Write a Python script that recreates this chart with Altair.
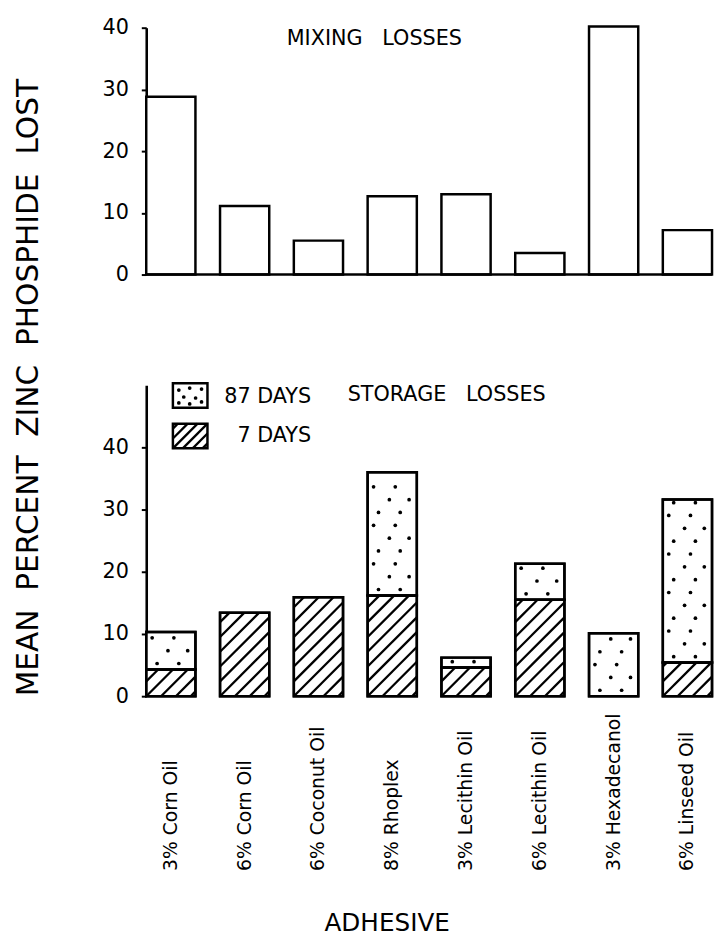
import math
import altair as alt
import pandas as pd

# ---------------- data ----------------
adhesives = ["3% Corn Oil", "6% Corn Oil", "6% Coconut Oil", "8% Rhoplex",
             "3% Lecithin Oil", "6% Lecithin Oil", "3% Hexadecanol", "6% Linseed Oil"]
mixing_loss = [28.8, 11.1, 5.5, 12.7, 13.0, 3.5, 40.2, 7.2]
storage_7_days = [4.3, 13.4, 15.9, 16.2, 4.6, 15.5, 0.0, 5.4]
storage_87_days = [10.3, 13.4, 15.9, 36.0, 6.2, 21.3, 10.1, 31.6]
y_ticks = [0, 10, 20, 30, 40]

# ---------------- layout / style ----------------
FONT = "DejaVu Sans"
W = 573            # plot width
H = 677            # whole plot height (both panels)
H_TOP = 250        # upper panel height
H_BOT = 315        # lower panel height
BOT_TOP = H - H_BOT
HALF = 1 / 3
XMIN, XMAX = -HALF, len(adhesives) - 1 + HALF
TOP_MAX = 40
BOT_MAX = 50
PX_X = W / (XMAX - XMIN)
PX_Y = H_BOT / BOT_MAX
HATCH_STEP = 15
LINE = 2.5
AXW = 2.6


def hatch(w, h, step):
    """'/' hatch segments clipped to a w x h box (u to the right, v upward)."""
    segs = []
    k = math.floor(-w / step)
    while k * step < h:
        c = k * step
        u0 = max(0.0, -c)
        u1 = min(w, h - c)
        if u1 - u0 > 0.5:
            segs.append((u0, u0 + c, u1, u1 + c))
        k += 1
    return segs


DOT_ROWS = [(11, 33), (22, 42), (6, 28)]


def dots(w, h, gap=13):
    pts, r, v = [], 0, 6
    while v <= h - 3:
        for u in DOT_ROWS[r % 3]:
            if u < w - 3:
                pts.append((u, v))
        r += 1
        v += gap
    return pts


idx = list(range(len(adhesives)))
bar_w = 2 * HALF * PX_X

top_df = pd.DataFrame({"x0": [i - HALF for i in idx], "x1": [i + HALF for i in idx],
                       "y0": [0.0] * len(idx), "y1": mixing_loss})
top_base_df = pd.DataFrame({"x0": [XMIN], "x1": [XMAX], "y": [0.0]})
label_df = pd.DataFrame({"i": idx, "name": adhesives})

seg_rows, hatch_rows, dot_rows = [], [], []
for i in idx:
    a, b = storage_7_days[i], storage_87_days[i]
    if a > 0:
        seg_rows.append({"x0": i - HALF, "x1": i + HALF, "y0": 0.0, "y1": a})
        for u0, v0, u1, v1 in hatch(bar_w, a * PX_Y, HATCH_STEP):
            hatch_rows.append({"hx": i - HALF + u0 / PX_X, "hy": v0 / PX_Y,
                               "hx2": i - HALF + u1 / PX_X, "hy2": v1 / PX_Y})
    if b - a > 0:
        seg_rows.append({"x0": i - HALF, "x1": i + HALF, "y0": a, "y1": b})
        for u, v in dots(bar_w, (b - a) * PX_Y):
            dot_rows.append({"dx": i - HALF + u / PX_X, "dy": a + v / PX_Y})


# legend drawn inside the lower panel (pixel layout converted to that panel's scales)
def px_x(p):
    return XMIN + p / PX_X


def px_y(p):
    return BOT_MAX - p / PX_Y


LB_X0, LB_X1 = 27, 62
LB1 = (-2, 23)
LB2 = (39, 64)
leg_box = pd.DataFrame({"x0": [px_x(LB_X0)] * 2, "x1": [px_x(LB_X1)] * 2,
                        "y0": [px_y(LB1[1]), px_y(LB2[1])], "y1": [px_y(LB1[0]), px_y(LB2[0])]})
leg_hatch = []
for u0, v0, u1, v1 in hatch(LB_X1 - LB_X0, LB2[1] - LB2[0], 10):
    leg_hatch.append({"hx": px_x(LB_X0 + u0), "hy": px_y(LB2[1] - v0),
                      "hx2": px_x(LB_X0 + u1), "hy2": px_y(LB2[1] - v1)})
leg_dots = [{"dx": px_x(LB_X0 + u), "dy": px_y(LB1[0] + v)}
            for u, v in [(6, 7), (17, 5), (29, 6), (11, 14), (23, 15), (6, 20), (29, 19), (17, 21)]]

seg_df = pd.DataFrame(seg_rows)
hatch_df = pd.DataFrame(hatch_rows + leg_hatch)
dot_df = pd.DataFrame(dot_rows + leg_dots)

xs = alt.Scale(domain=[XMIN, XMAX], nice=False, zero=False)
ys_top = alt.Scale(domain=[0, TOP_MAX], range=[H_TOP, 0], nice=False)
ys_bot = alt.Scale(domain=[0, BOT_MAX], range=[H, BOT_TOP], nice=False)

y_axis_common = dict(values=y_ticks, orient="left", tickSize=5, tickWidth=2, labelPadding=13,
                     labelFontSize=21, grid=False, domainWidth=AXW)

# ---------------- upper panel: mixing losses ----------------
top_bars = alt.Chart(top_df).mark_rect(fill="white", stroke="black", strokeWidth=LINE).encode(
    x=alt.X("x0:Q", scale=xs, axis=None),
    x2="x1:Q",
    y=alt.Y("y1:Q", scale=ys_top,
            axis=alt.Axis(title="MEAN\u00a0 PERCENT\u00a0 ZINC\u00a0 PHOSPHIDE\u00a0 LOST",
                          titleFontSize=30, titleAngle=270, titleAlign="center",
                          titleBaseline="middle", titleX=-119, titleY=364,
                          **y_axis_common)),
    y2="y0:Q",
)
top_baseline = alt.Chart(top_base_df).mark_rule(color="black", strokeWidth=AXW).encode(
    x=alt.X("x0:Q", scale=xs, axis=None), x2="x1:Q",
    y=alt.Y("y:Q", scale=ys_top, axis=None),
)
top_text = alt.Chart(pd.DataFrame({"t": ["MIXING\u00a0\u00a0 LOSSES"]})).mark_text(
    fontSize=21, font=FONT, color="black", align="center", baseline="middle"
).encode(x=alt.value(231), y=alt.value(12), text="t:N")

# ---------------- lower panel: storage losses ----------------
base = alt.Chart(seg_df).mark_rect(fill="white", stroke="black", strokeWidth=LINE).encode(
    x=alt.X("x0:Q", scale=xs,
            axis=alt.Axis(labels=False, ticks=False, grid=False, title=None, domainWidth=AXW)),
    x2="x1:Q",
    y=alt.Y("y1:Q", scale=ys_bot, axis=alt.Axis(title=None, **y_axis_common)),
    y2="y0:Q",
)
hatch_layer = alt.Chart(hatch_df).mark_rule(color="black", strokeWidth=2.3).encode(
    x=alt.X("hx:Q", scale=xs, axis=None), x2="hx2:Q",
    y=alt.Y("hy:Q", scale=ys_bot, axis=None), y2="hy2:Q",
)
dot_layer = alt.Chart(dot_df).mark_circle(color="black", size=14, opacity=1).encode(
    x=alt.X("dx:Q", scale=xs, axis=None),
    y=alt.Y("dy:Q", scale=ys_bot, axis=None),
)
outline = alt.Chart(seg_df).mark_rect(fill="white", fillOpacity=0, stroke="black",
                                      strokeWidth=LINE).encode(
    x=alt.X("x0:Q", scale=xs, axis=None), x2="x1:Q",
    y=alt.Y("y1:Q", scale=ys_bot, axis=None), y2="y0:Q",
)
leg_bg = alt.Chart(leg_box).mark_rect(fill="white").encode(
    x=alt.X("x0:Q", scale=xs, axis=None), x2="x1:Q",
    y=alt.Y("y1:Q", scale=ys_bot, axis=None), y2="y0:Q",
)
leg_outline = alt.Chart(leg_box).mark_rect(fill="white", fillOpacity=0, stroke="black",
                                           strokeWidth=LINE).encode(
    x=alt.X("x0:Q", scale=xs, axis=None), x2="x1:Q",
    y=alt.Y("y1:Q", scale=ys_bot, axis=None), y2="y0:Q",
)
leg_87 = alt.Chart(pd.DataFrame({"t": ["87 DAYS"]})).mark_text(
    fontSize=21, font=FONT, color="black", baseline="middle", align="right"
).encode(x=alt.value(167), y=alt.value(BOT_TOP + 12), text="t:N")
leg_7 = alt.Chart(pd.DataFrame({"t": ["7 DAYS"]})).mark_text(
    fontSize=21, font=FONT, color="black", baseline="middle", align="right"
).encode(x=alt.value(167), y=alt.value(BOT_TOP + 52), text="t:N")
leg_title = alt.Chart(pd.DataFrame({"t": ["STORAGE\u00a0\u00a0 LOSSES"]})).mark_text(
    fontSize=21, font=FONT, color="black", baseline="middle", align="left"
).encode(x=alt.value(204), y=alt.value(BOT_TOP + 10), text="t:N")

# category labels (rotated, reading upward) and the axis title
cat_labels = alt.Chart(label_df).mark_text(
    fontSize=19, font=FONT, color="black", angle=270, align="left", baseline="middle"
).encode(x=alt.X("i:Q", scale=xs, axis=None), y=alt.value(H + 177), text="name:N")
x_title = alt.Chart(pd.DataFrame({"t": ["ADHESIVE"]})).mark_text(
    fontSize=25, font=FONT, color="black", align="center", baseline="middle"
).encode(x=alt.value(244), y=alt.value(H + 230), text="t:N")

chart = alt.layer(
    top_bars, top_baseline, top_text,
    base, leg_bg, hatch_layer, dot_layer, outline, leg_outline, leg_87, leg_7, leg_title,
    cat_labels, x_title,
).resolve_scale(y="independent").properties(
    width=W, height=H,
    padding={"left": 5, "top": 3, "right": 0, "bottom": 0},
).configure_view(stroke=None).configure_axis(
    domainColor="black", tickColor="black", labelColor="black", titleColor="black",
    labelFont=FONT, titleFont=FONT, titleFontWeight="normal",
)

chart.save("out.html", embed_options={"renderer": "svg", "actions": False})
